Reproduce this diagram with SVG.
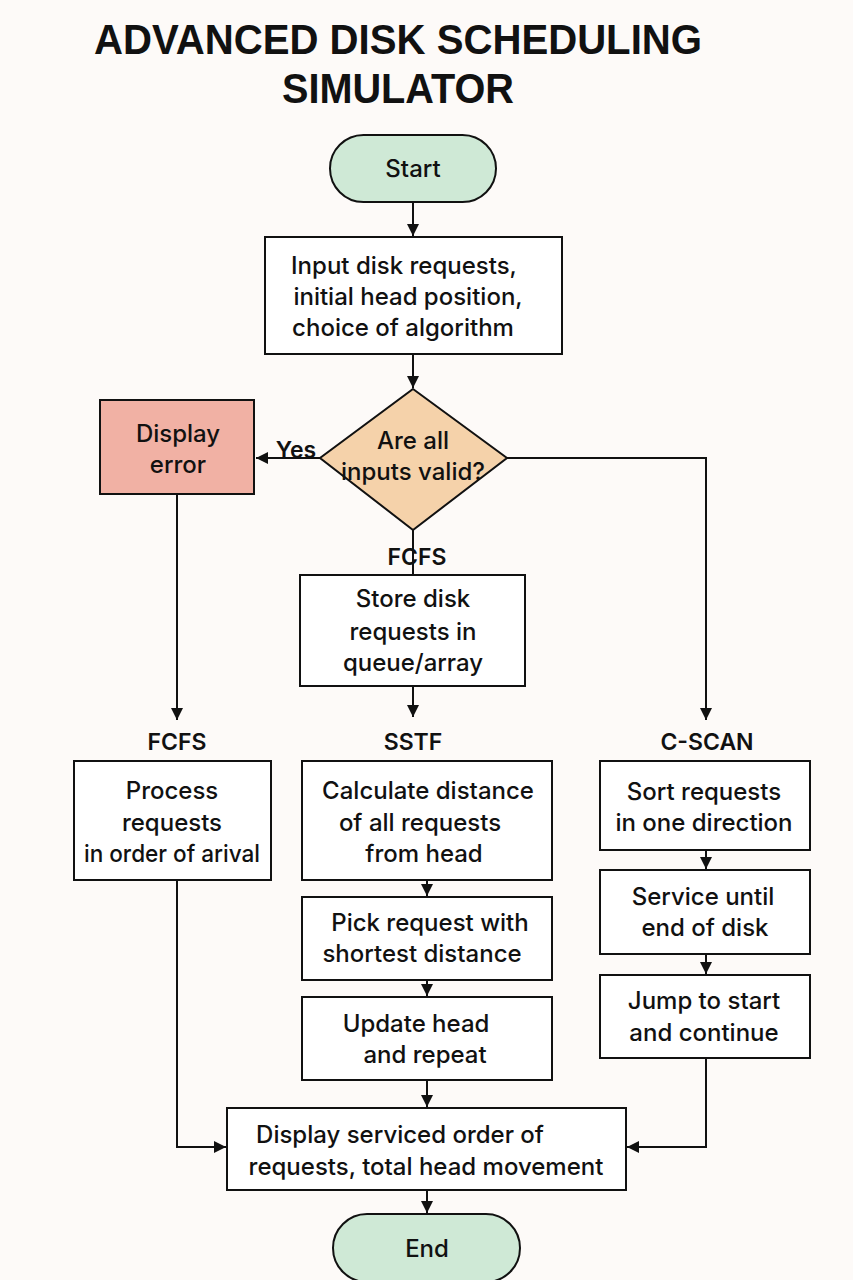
<svg xmlns="http://www.w3.org/2000/svg" width="853" height="1280" viewBox="0 0 853 1280">
<defs>
<marker id="ah" viewBox="0 0 10 10" refX="10" refY="5" markerWidth="12" markerHeight="12" markerUnits="userSpaceOnUse" orient="auto">
<path d="M0,0 L10,5 L0,10 z" fill="#111"/>
</marker>
<style>
.bx{fill:#fff;stroke:#111;stroke-width:2}
.t{font-family:Inter,"Liberation Sans",sans-serif;font-size:24px;font-weight:500;fill:#111;text-anchor:middle}
.lb{font-family:Inter,"Liberation Sans",sans-serif;font-size:23px;font-weight:600;fill:#111;text-anchor:middle}
.ttl{font-family:"Liberation Sans",Arial,sans-serif;font-size:42px;font-weight:bold;fill:#111;text-anchor:middle}
.c{fill:none;stroke:#111;stroke-width:2}
</style>
</defs>
<rect width="853" height="1280" fill="#fdfaf8"/>
<g id="title">
<text class="ttl" x="398" y="54" textLength="608" lengthAdjust="spacingAndGlyphs">ADVANCED DISK SCHEDULING</text>
<text class="ttl" x="398" y="103" textLength="232" lengthAdjust="spacingAndGlyphs">SIMULATOR</text>
</g>
<g id="connectors">
<line class="c" x1="413" y1="202" x2="413" y2="236" marker-end="url(#ah)"/>
<line class="c" x1="413" y1="354" x2="413" y2="388" marker-end="url(#ah)"/>
<line class="c" x1="320" y1="458" x2="256" y2="458" marker-end="url(#ah)"/>
<polyline class="c" points="507,458 706,458 706,720" marker-end="url(#ah)"/>
<line class="c" x1="177" y1="494" x2="177" y2="720" marker-end="url(#ah)"/>
<line class="c" x1="413" y1="530" x2="413" y2="575"/>
<line class="c" x1="413" y1="686" x2="413" y2="717" marker-end="url(#ah)"/>
<line class="c" x1="427" y1="880" x2="427" y2="896" marker-end="url(#ah)"/>
<line class="c" x1="427" y1="980" x2="427" y2="996" marker-end="url(#ah)"/>
<line class="c" x1="427" y1="1080" x2="427" y2="1107" marker-end="url(#ah)"/>
<line class="c" x1="706" y1="850" x2="706" y2="869" marker-end="url(#ah)"/>
<line class="c" x1="706" y1="954" x2="706" y2="974" marker-end="url(#ah)"/>
<polyline class="c" points="706,1058 706,1147 627,1147" marker-end="url(#ah)"/>
<polyline class="c" points="177,880 177,1147 226,1147" marker-end="url(#ah)"/>
<line class="c" x1="427" y1="1190" x2="427" y2="1213" marker-end="url(#ah)"/>
<text class="lb" x="296" y="458">Yes</text>
<text class="lb" x="417" y="565">FCFS</text>
<text class="lb" x="177" y="750">FCFS</text>
<text class="lb" x="413" y="750">SSTF</text>
<text class="lb" x="707" y="750">C-SCAN</text>
</g>
<g id="start">
<rect x="330" y="135" width="166" height="67" rx="33.5" fill="#cfe9d6" stroke="#111" stroke-width="2"/>
<text class="t" x="413" y="177">Start</text>
</g>
<g id="input">
<rect class="bx" x="265" y="237" width="297" height="117"/>
<text class="t" x="404" y="274">Input disk requests,</text>
<text class="t" x="408" y="305">initial head position,</text>
<text class="t" x="403" y="336">choice of algorithm</text>
</g>
<g id="valid">
<polygon points="413,389 507,458 413,530 320,458" fill="#f5d2aa" stroke="#111" stroke-width="2"/>
<text class="t" x="413" y="449">Are all</text>
<text class="t" x="413" y="480">inputs valid?</text>
</g>
<g id="error">
<rect x="100" y="400" width="154" height="94" fill="#f1b1a4" stroke="#111" stroke-width="2"/>
<text class="t" x="178" y="442">Display</text>
<text class="t" x="178" y="473">error</text>
</g>
<g id="store">
<rect class="bx" x="300" y="575" width="225" height="111"/>
<text class="t" x="413" y="607">Store disk</text>
<text class="t" x="413" y="640">requests in</text>
<text class="t" x="413" y="671">queue/array</text>
</g>
<g id="fcfs">
<rect class="bx" x="74" y="761" width="197" height="119"/>
<text class="t" x="172" y="799">Process</text>
<text class="t" x="172" y="831">requests</text>
<text class="t" x="172" y="862" textLength="176" lengthAdjust="spacingAndGlyphs">in order of arival</text>
</g>
<g id="sstf1">
<rect class="bx" x="302" y="761" width="250" height="119"/>
<text class="t" x="428" y="799">Calculate distance</text>
<text class="t" x="420" y="831">of all requests</text>
<text class="t" x="424" y="862">from head</text>
</g>
<g id="sstf2">
<rect class="bx" x="302" y="897" width="250" height="83"/>
<text class="t" x="430" y="931">Pick request with</text>
<text class="t" x="422" y="962">shortest distance</text>
</g>
<g id="sstf3">
<rect class="bx" x="302" y="997" width="250" height="83"/>
<text class="t" x="416" y="1032">Update head</text>
<text class="t" x="425" y="1063">and repeat</text>
</g>
<g id="cscan1">
<rect class="bx" x="600" y="761" width="210" height="89"/>
<text class="t" x="704" y="800">Sort requests</text>
<text class="t" x="704" y="831">in one direction</text>
</g>
<g id="cscan2">
<rect class="bx" x="600" y="870" width="210" height="84"/>
<text class="t" x="703" y="905">Service until</text>
<text class="t" x="705" y="936">end of disk</text>
</g>
<g id="cscan3">
<rect class="bx" x="600" y="975" width="210" height="83"/>
<text class="t" x="704" y="1009">Jump to start</text>
<text class="t" x="704" y="1041">and continue</text>
</g>
<g id="display">
<rect class="bx" x="227" y="1108" width="399" height="82"/>
<text class="t" x="400" y="1143">Display serviced order of</text>
<text class="t" x="426" y="1175">requests, total head movement</text>
</g>
<g id="end">
<rect x="333" y="1214" width="187" height="68" rx="34" fill="#cfe9d6" stroke="#111" stroke-width="2"/>
<text class="t" x="427" y="1257">End</text>
</g>
</svg>
